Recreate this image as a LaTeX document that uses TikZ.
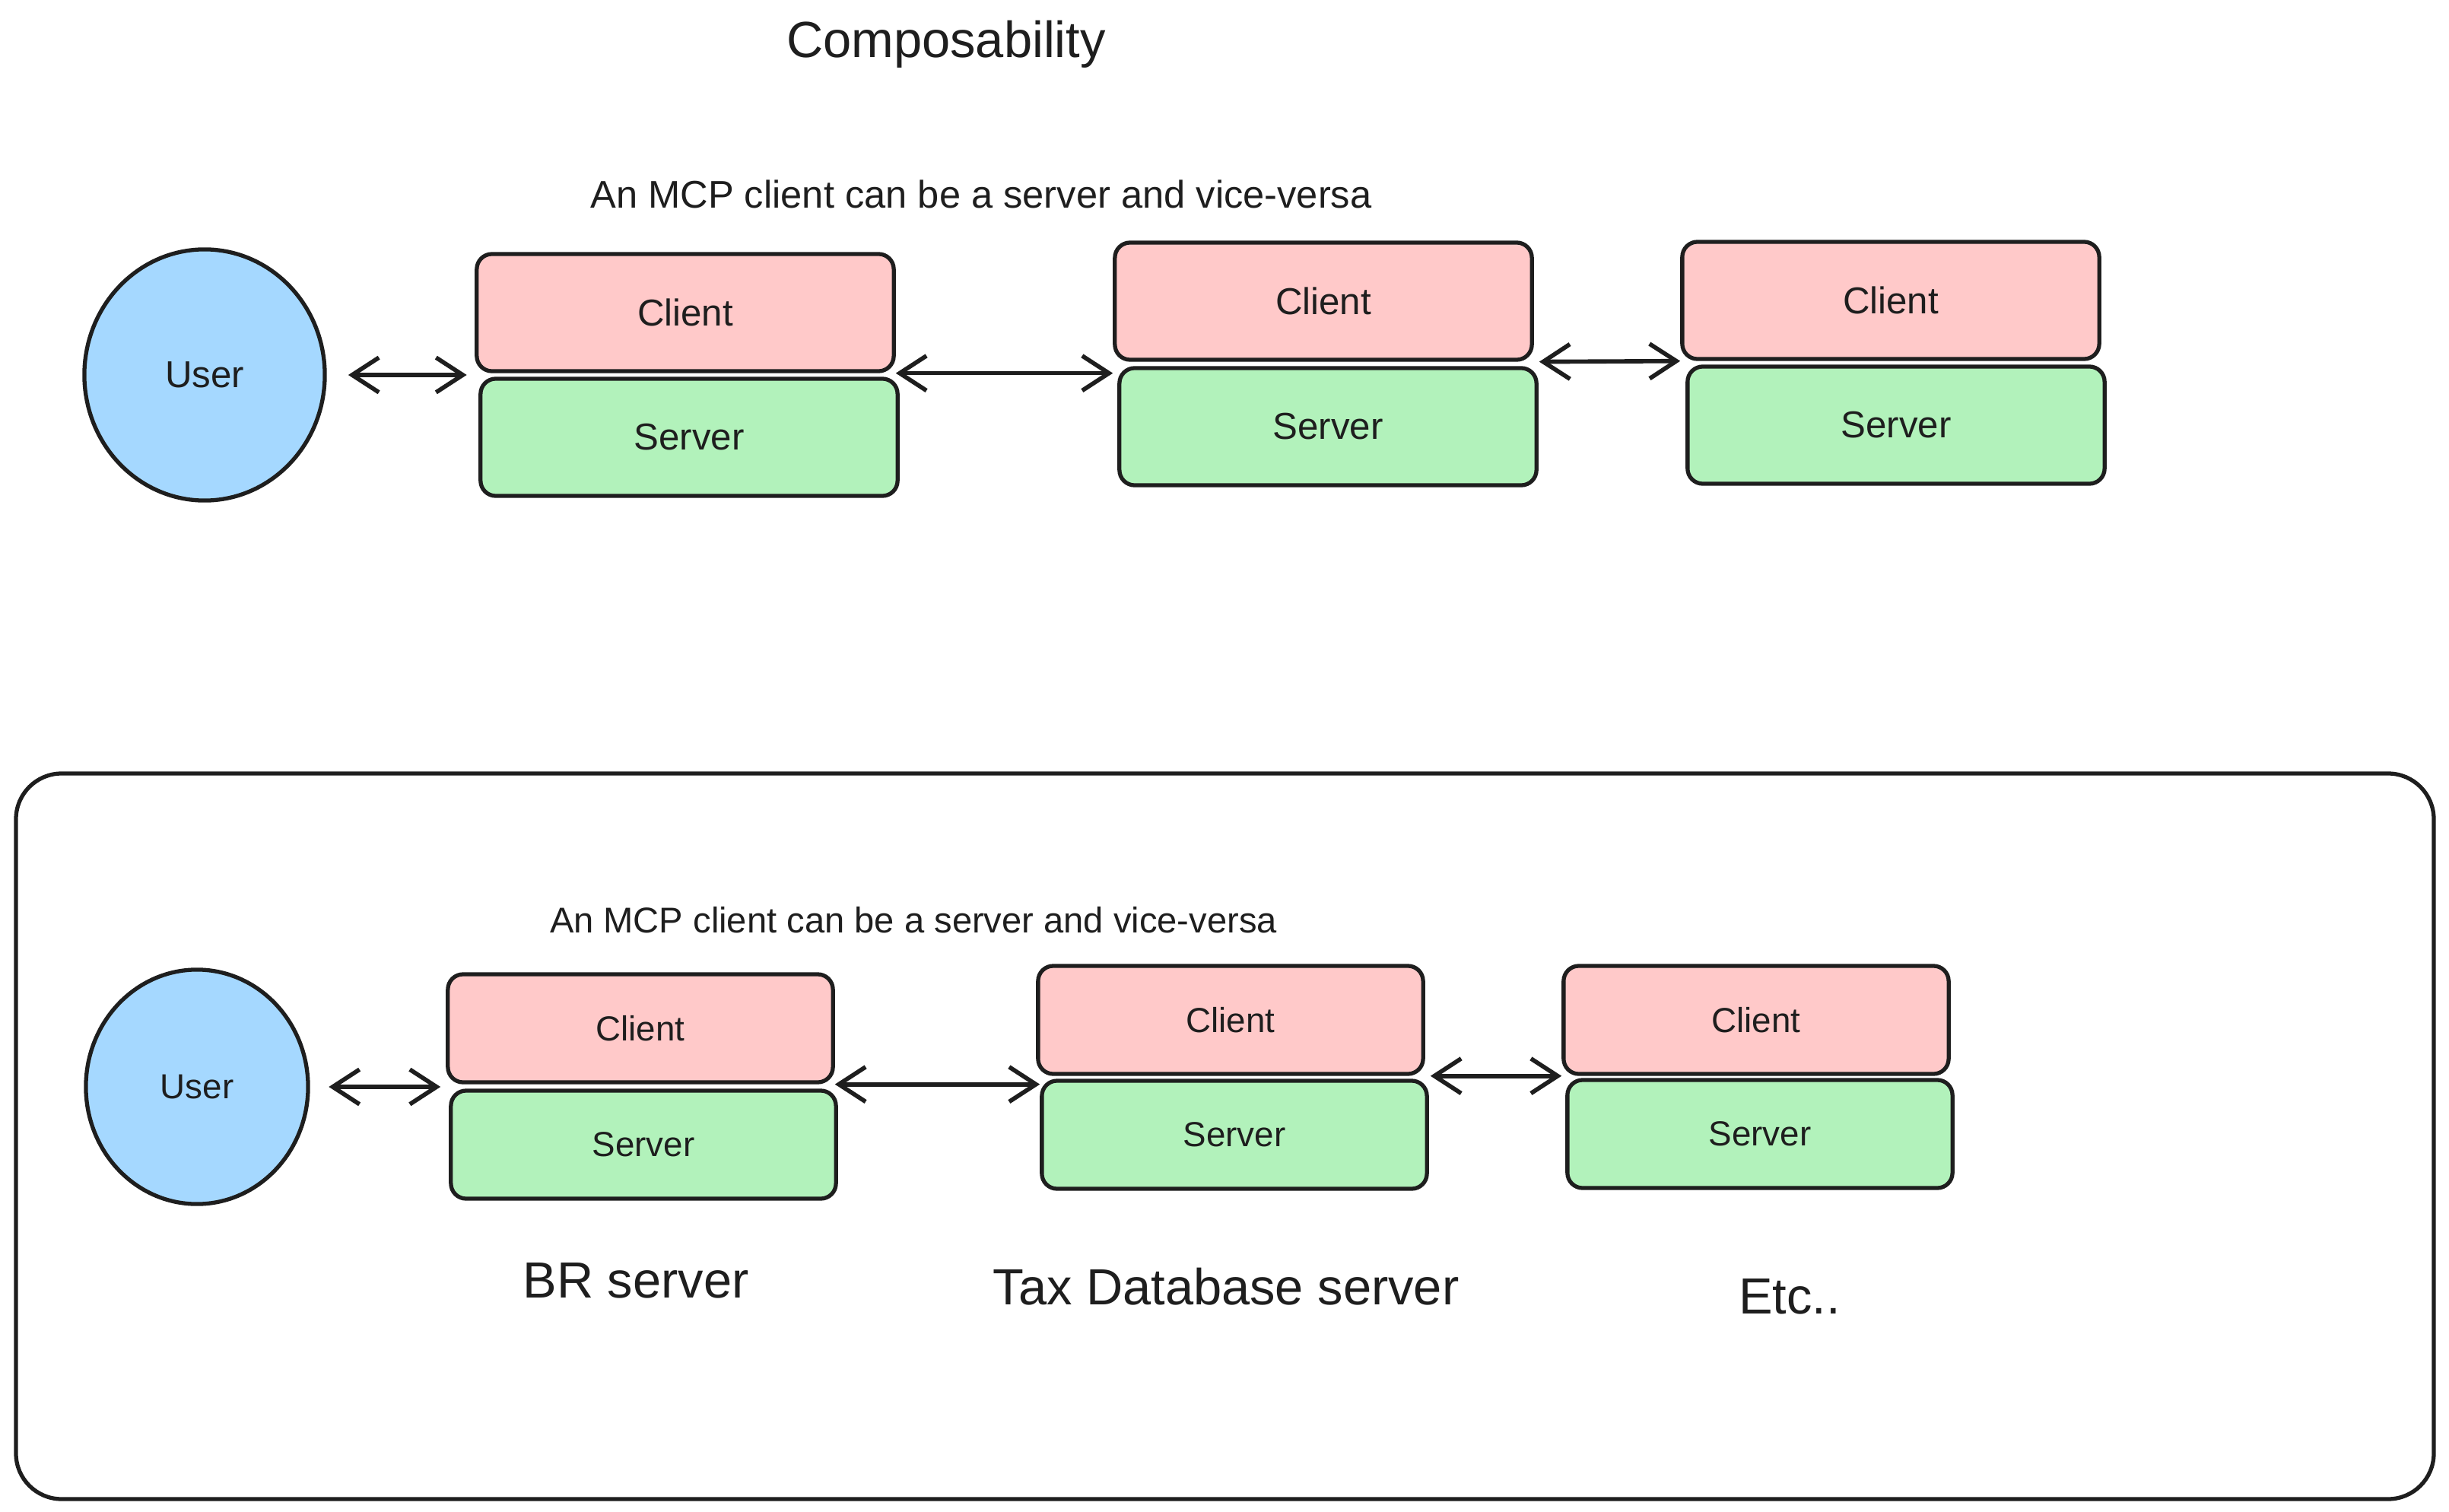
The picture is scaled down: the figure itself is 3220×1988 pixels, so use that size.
\documentclass[tikz,border=0pt]{standalone}
\usepackage{fontspec}
\setmainfont{Liberation Sans}
\usepackage{tikz}
\usepackage{xcolor}
\usetikzlibrary{shapes.geometric, arrows.meta}

\definecolor{ink}{HTML}{1E1E1E}
\definecolor{userblue}{HTML}{A5D8FF}
\definecolor{clientpink}{HTML}{FFC9C9}
\definecolor{servergreen}{HTML}{B2F2BB}

\begin{document}
\begin{tikzpicture}[
  x=0.01cm, y=-0.01cm,
  every node/.style={text=ink, inner sep=0pt},
  user/.style={ellipse, draw=ink, line width=1.5pt, fill=userblue},
  part/.style={rectangle, rounded corners=0.2cm, draw=ink, line width=1.5pt},
  clientbox/.style={part, fill=clientpink},
  serverbox/.style={part, fill=servergreen},
  toprow/.style={minimum width=5.48cm, minimum height=1.54cm,
                 font=\fontsize{14}{16}\selectfont},
  botrow/.style={minimum width=5.06cm, minimum height=1.42cm,
                 font=\fontsize{13}{15}\selectfont},
  note/.style={font=\fontsize{14.4}{17}\selectfont},
  biglabel/.style={font=\fontsize{19}{22}\selectfont},
  link/.style={draw=ink, line width=1.6pt,
               {Straight Barb[length=10pt, width=13pt]}-{Straight Barb[length=10pt, width=13pt]}},
]
\useasboundingbox (0,0) rectangle (3220,1988);

\node[biglabel] (title) at (1244,58) {Composability};
\node[note] (sub1) at (1290,255) {An MCP client can be a server and vice-versa};

% top row
\node[user, toprow, minimum width=3.16cm, minimum height=3.3cm] (u1) at (269,493) {User};
\node[clientbox, toprow] (c1) at (901,411) {Client};
\node[serverbox, toprow] (s1) at (906,575) {Server};
\node[clientbox, toprow] (c2) at (1740,396) {Client};
\node[serverbox, toprow] (s2) at (1746,561) {Server};
\node[clientbox, toprow] (c3) at (2486,395) {Client};
\node[serverbox, toprow] (s3) at (2493,559) {Server};

\draw[link, shorten <=8pt, shorten >=3pt] (u1.east) -- (u1.east -| c1.west);
\draw[link] (c1.south east) -- (c1.south east -| c2.west);
\draw[link, shorten <=2pt] (c2.south east) -- (c3.south west);

% lower example
\draw[ink, line width=1.5pt, rounded corners=0.6cm] (21,1017) rectangle (3200,1971);
\node[note, font=\fontsize{13.4}{16}\selectfont] (sub2) at (1201,1210) {An MCP client can be a server and vice-versa};

\node[user, botrow, minimum width=2.92cm, minimum height=3.08cm] (u2) at (259,1429) {User};
\node[clientbox, botrow] (cb1) at (842,1352) {Client};
\node[serverbox, botrow] (sb1) at (846,1505) {Server};
\node[clientbox, botrow] (cb2) at (1618,1341) {Client};
\node[serverbox, botrow] (sb2) at (1623,1492) {Server};
\node[clientbox, botrow] (cb3) at (2309,1341) {Client};
\node[serverbox, botrow] (sb3) at (2314,1491) {Server};

\draw[link, shorten <=7pt, shorten >=2pt] (u2.east) -- (u2.east -| cb1.west);
\draw[link] (cb1.south east) -- (cb1.south east -| sb2.west);
\draw[link, shorten <=2pt] (cb2.south east) -- (cb3.south west);

\node[biglabel] (br) at (836,1684) {BR server};
\node[biglabel] (tax) at (1612,1692) {Tax Database server};
\node[biglabel] (etc) at (2353,1705) {Etc..};
\end{tikzpicture}
\end{document}
